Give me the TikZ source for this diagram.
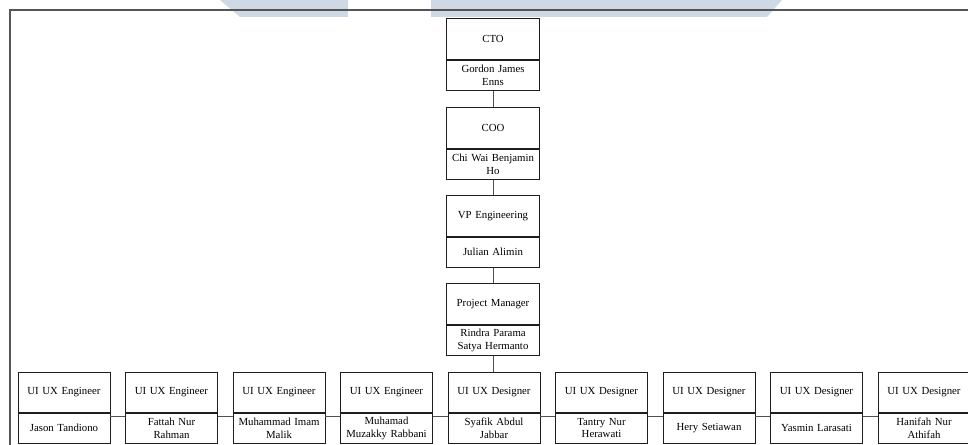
\documentclass[tikz,border=0pt]{standalone}
\usepackage{fontspec}
\setmainfont{Liberation Serif}
\definecolor{wmark}{RGB}{206,217,229}
\definecolor{framec}{RGB}{85,85,85}
\definecolor{boxc}{RGB}{30,30,30}
\definecolor{linec}{RGB}{80,80,80}
\begin{document}
\begin{tikzpicture}[x=1pt,y=-1pt,
  title/.style={draw=boxc,line width=0.8pt,minimum width=93pt,minimum height=41pt,inner sep=1pt,anchor=north,font=\fontsize{10.8}{12}\selectfont,align=center,text width=90pt},
  pname/.style={draw=boxc,line width=0.8pt,minimum width=93pt,minimum height=30pt,inner sep=1pt,anchor=north,font=\fontsize{10.8}{12.6}\selectfont,align=center,text width=90pt},
  btitle/.style={title,minimum width=92pt,minimum height=40pt,text width=89pt},
  bname/.style={pname,minimum width=92pt,text width=89pt},
  conn/.style={draw=linec,line width=0.8pt}]
\useasboundingbox (0,0) rectangle (968,444);
% watermark
\fill[wmark] (220,0) -- (348,0) -- (348,17) -- (240,17) -- cycle;
\fill[wmark] (431,0) -- (782,0) -- (767,17) -- (431,17) -- cycle;
% frame
\draw[framec,line width=1.5pt] (10,446) -- (10,10) -- (970,10);
% top chain
\node[title] (cto) at (493,18) {CTO};
\node[pname] (ctoN) at (cto.south) {Gordon James\\Enns};
\node[title] (coo) at (493,107) {COO};
\node[pname] (cooN) at (coo.south) {Chi Wai Benjamin\\Ho};
\node[title] (vp) at (493,195) {VP Engineering};
\node[pname] (vpN) at (vp.south) {Julian Alimin};
\node[title] (pm) at (493,283) {Project Manager};
\node[pname] (pmN) at (pm.south) {Rindra Parama\\Satya Hermanto};
\draw[conn] (ctoN.south) -- (coo.north);
\draw[conn] (cooN.south) -- (vp.north);
\draw[conn] (vpN.south) -- (pm.north);
% bottom row
\foreach \i/\t/\n in {1/UI UX Engineer/Jason Tandiono,
  2/UI UX Engineer/Fattah Nur\\Rahman,
  3/UI UX Engineer/Muhammad Imam\\Malik,
  4/UI UX Engineer/Muhamad\\Muzakky Rabbani,
  5/UI UX Designer/Syafik Abdul\\Jabbar,
  6/UI UX Designer/Tantry Nur\\Herawati,
  7/UI UX Designer/Hery Setiawan,
  8/UI UX Designer/Yasmin Larasati,
  9/UI UX Designer/Hanifah Nur\\Athifah}{
  \node[btitle] (b\i) at ({64+(\i-1)*107.5},372) {\t};
  \node[bname] (b\i N) at (b\i.south) {\n};
}
\draw[conn] (pmN.south) -- (pmN.south |- b5.north);
\foreach \a/\b in {1/2,2/3,3/4,4/5,5/6,6/7,7/8,8/9}{
  \draw[conn] ([yshift=-4pt]b\a.south east) -- ([yshift=-4pt]b\b.south west);
}
\end{tikzpicture}
\end{document}
